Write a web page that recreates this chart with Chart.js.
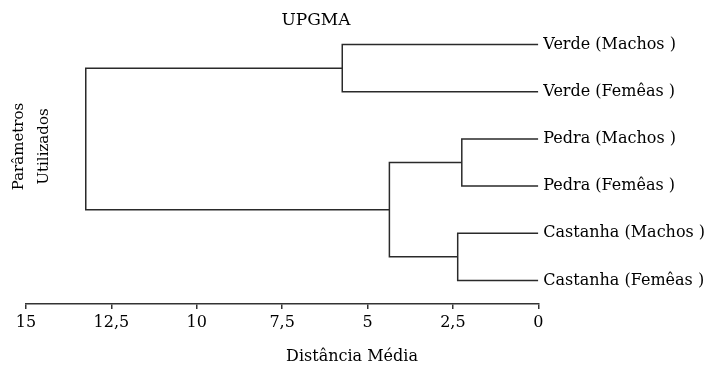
<!DOCTYPE html>
<html>
<head>
<meta charset="utf-8">
<script src="https://cdn.jsdelivr.net/npm/chart.js@4.4.0/dist/chart.umd.min.js"></script>
<style>
  html, body { margin: 0; padding: 0; background: #fff; }
</style>
</head>
<body>
<canvas id="dendro" width="723" height="370"></canvas>
<script>
// --- Data ---
const leafNames = [
  'Verde (Machos )',
  'Verde (Femêas )',
  'Pedra (Machos )',
  'Pedra (Femêas )',
  'Castanha (Machos )',
  'Castanha (Femêas )'
];
// merges: node ids 0-5 are leaves, each merge adds a new node (6, 7, ...)
const mergeLeft = [0, 2, 4, 7, 6];
const mergeRight = [1, 3, 5, 8, 9];
const mergeDist = [5.74, 2.24, 2.36, 4.36, 13.25];
const tickValues = [15, 12.5, 10, 7.5, 5, 2.5, 0];
const tickLabels = ['15', '12,5', '10', '7,5', '5', '2,5', '0'];

const FONT = '"DejaVu Serif", serif';
const LINE = '#2a2a2a';

// --- Build the tree segments ---
const nodeY = leafNames.map((_, i) => i);
const nodeDist = leafNames.map(() => 0);
const datasets = [];
mergeDist.forEach((d, k) => {
  const a = mergeLeft[k], b = mergeRight[k];
  datasets.push({
    data: [
      { x: nodeDist[a], y: nodeY[a] },
      { x: d, y: nodeY[a] },
      { x: d, y: nodeY[b] },
      { x: nodeDist[b], y: nodeY[b] }
    ],
    showLine: true,
    borderColor: LINE,
    borderWidth: 1.5,
    pointRadius: 0,
    tension: 0,
    fill: false
  });
  nodeY.push((nodeY[a] + nodeY[b]) / 2);
  nodeDist.push(d);
});

// title, x title and rotated y title
const extraText = {
  id: 'extraText',
  afterDraw(chart) {
    const ctx = chart.ctx;
    ctx.save();
    ctx.fillStyle = '#000';
    ctx.textAlign = 'center';
    ctx.textBaseline = 'middle';
    ctx.font = '17px ' + FONT;
    ctx.fillText('UPGMA', 316, 21);
    ctx.font = '16px ' + FONT;
    ctx.fillText('Distância Média', 352, 357);
    ctx.font = '15px ' + FONT;
    ctx.translate(19.5, 146.5);
    ctx.rotate(-Math.PI / 2);
    ctx.fillText('Parâmetros', 0, 0);
    ctx.fillText('Utilizados', 0, 25);
    ctx.restore();
  }
};

new Chart(document.getElementById('dendro'), {
  type: 'scatter',
  data: { datasets: datasets },
  options: {
    responsive: false,
    animation: false,
    layout: { padding: { left: 26, top: 21, right: 0, bottom: 0 } },
    plugins: { legend: { display: false }, tooltip: { enabled: false } },
    scales: {
      x: {
        type: 'linear',
        reverse: true,
        min: 0,
        max: 15,
        afterBuildTicks: (scale) => { scale.ticks = tickValues.map(v => ({ value: v })); },
        afterFit: (scale) => { scale.height = 66; },
        ticks: {
          color: '#000',
          padding: 4,
          maxRotation: 0,
          font: { family: FONT, size: 16 },
          callback: (v) => tickLabels[tickValues.indexOf(v)]
        },
        grid: { drawOnChartArea: false, drawTicks: true, tickLength: 5, color: '#333', lineWidth: 1.5 },
        border: { display: true, color: '#333', width: 1.5 }
      },
      y: {
        type: 'linear',
        position: 'right',
        reverse: true,
        min: -0.5,
        max: 5.5,
        afterBuildTicks: (scale) => { scale.ticks = leafNames.map((_, i) => ({ value: i })); },
        afterFit: (scale) => { scale.width = 723 - 538.3; },
        ticks: {
          color: '#000',
          padding: 5,
          font: { family: FONT, size: 16 },
          callback: (v) => leafNames[v]
        },
        grid: { display: false, drawTicks: false },
        border: { display: false }
      }
    }
  },
  plugins: [extraText]
});
</script>
</body>
</html>
